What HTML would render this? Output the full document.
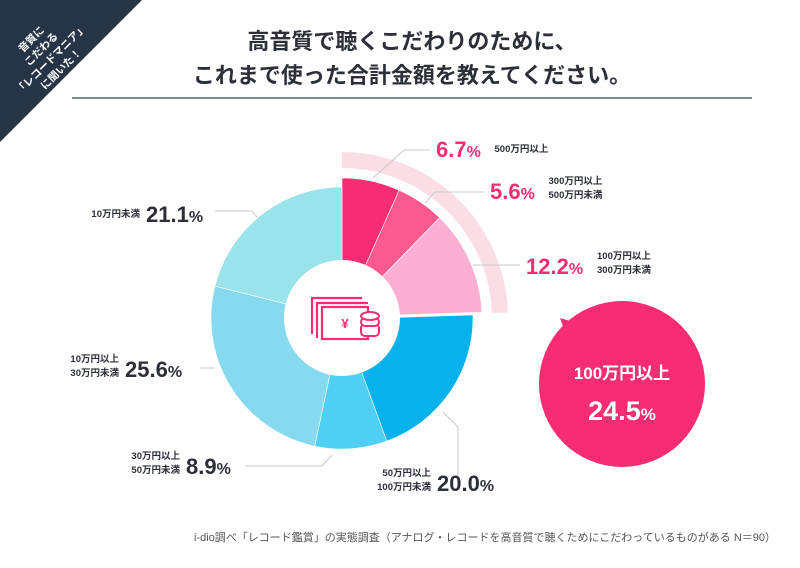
<!DOCTYPE html>
<html><head><meta charset="utf-8">
<style>
html,body{margin:0;padding:0;background:#fff;}
body{width:800px;height:563px;overflow:hidden;position:relative;font-family:"Liberation Sans","Noto Sans CJK JP",sans-serif;}
svg text{font-family:"Liberation Sans","Noto Sans CJK JP",sans-serif;}
</style></head>
<body>
<svg id="chart" width="800" height="563" viewBox="0 0 800 563" xmlns="http://www.w3.org/2000/svg">
  <rect width="800" height="563" fill="#fff"/>
  <g>
    <polygon points="0,0 142,0 0,142" fill="#253447"/>
    <text transform="translate(31,39) rotate(-45)" fill="#fff" font-size="10.5" font-weight="bold" text-anchor="middle">
      <tspan x="0" y="4">音質に</tspan><tspan x="0" y="18">こだわる</tspan><tspan x="0" y="32">「レコードマニア」</tspan><tspan x="0" y="46">に聞いた！</tspan>
    </text>
  </g>
  <g fill="#2b2f38" font-size="22" font-weight="bold" text-anchor="middle">
    <text x="412" y="49">高音質で聴くこだわりのために、</text>
    <text x="412" y="83">これまで使った合計金額を教えてください。</text>
  </g>
  <line x1="72" y1="98" x2="752" y2="98" stroke="#3a4350" stroke-width="1.2"/>
  <path d="" id="hlArc" fill="#fbdde6"/>
  <g id="slices"></g>
  <circle cx="342" cy="318" r="58" fill="#fff"/>
  <g fill="none" stroke="#f72d73" stroke-width="2.2">
    <polyline points="312,334 312,298 362,298"/>
    <polyline points="317,338 317,303 368,303"/>
    <rect x="322" y="307" width="46" height="32"/>
    <text x="345" y="328" fill="#f72d73" stroke="none" font-size="13" font-weight="bold" text-anchor="middle">¥</text>
    <g fill="#fff" stroke="#f72d73" stroke-width="2">
      <rect x="361" y="324" width="18" height="12" rx="4"/>
      <rect x="361" y="318" width="18" height="8" rx="4"/>
      <ellipse cx="370" cy="316" rx="9" ry="4"/>
    </g>
  </g>
  <g id="leaders" stroke="#c9c9c9" stroke-width="1" fill="none">
    <polyline points="430,150 404,150 373,178"/>
    <polyline points="484,192 435,192 425,203"/>
    <polyline points="520,265 473,265"/>
    <polyline points="215,211 252,211 257,217"/>
    <polyline points="200,368 215,368"/>
    <polyline points="245,466 322,466 332,455"/>
    <polyline points="443,412 458,427 458,478"/>
  </g>
  <g id="labels"></g>
  <g>
    <polygon points="560,318 600,330 575,360" fill="#f72d73"/>
    <circle cx="622" cy="384" r="83" fill="#f72d73"/>
    <text x="622" y="379" fill="#fff" font-size="17" font-weight="bold" text-anchor="middle">100万円以上</text>
    <text x="622" y="420" fill="#fff" font-size="27" font-weight="bold" text-anchor="middle">24.5<tspan font-size="17">%</tspan></text>
  </g>
  <text x="776" y="541" fill="#555" font-size="11" text-anchor="end">i-dio調べ「レコード鑑賞」の実態調査（アナログ・レコードを高音質で聴くためにこだわっているものがある N＝90）</text>
</svg>
<script>
const categories = ["500万円以上","300万円以上500万円未満","100万円以上300万円未満","50万円以上100万円未満","30万円以上50万円未満","10万円以上30万円未満","10万円未満"];
const values = [6.7, 5.6, 12.2, 20.0, 8.9, 25.6, 21.1];
const colors = ["#f72d73","#fb5a90","#fcaed3","#06b1ec","#4fcff3","#86d9ef","#9ae3ea"];
const highlighted = [true, true, true, false, false, false, false];
const valueLabels = ["6.7","5.6","12.2","20.0","8.9","25.6","21.1"];
const subLine1 = ["500万円以上","300万円以上","100万円以上","50万円以上","30万円以上","10万円以上","10万円未満"];
const subLine2 = ["","500万円未満","300万円未満","100万円未満","50万円未満","30万円未満",""];

const NS = "http://www.w3.org/2000/svg";
const cx = 342, cy = 318;
const total = values.reduce((a,b)=>a+b,0);
function angleOf(v){ return v/total*Math.PI*2; }
function pt(a,r){ return [cx + r*Math.sin(a), cy - r*Math.cos(a)]; }
function arcPath(a0,a1,r0,r1){
  const large = (a1-a0) > Math.PI ? 1 : 0;
  const p0=pt(a0,r1), p1=pt(a1,r1), p2=pt(a1,r0), p3=pt(a0,r0);
  return `M${p0[0]},${p0[1]} A${r1},${r1} 0 ${large} 1 ${p1[0]},${p1[1]} L${p2[0]},${p2[1]} A${r0},${r0} 0 ${large} 0 ${p3[0]},${p3[1]} Z`;
}
const sg = document.getElementById('slices');
let a = 0, hlEnd = 0;
values.forEach((v,i)=>{
  const a1 = a + angleOf(v);
  const p = document.createElementNS(NS,'path');
  const rOuter = highlighted[i] ? 140 : 131;
  p.setAttribute('d', arcPath(a, a1, 50, rOuter));
  p.setAttribute('fill', colors[i]);
  p.setAttribute('stroke', '#fff');
  p.setAttribute('stroke-width', '0.6');
  
  
  sg.appendChild(p);
  if (highlighted[i]) hlEnd = a1;
  a = a1;
});
const sep = pt(hlEnd,145);
const sl = document.createElementNS(NS,'line');
sl.setAttribute('x1', pt(hlEnd,50)[0]); sl.setAttribute('y1', pt(hlEnd,50)[1]);
sl.setAttribute('x2', sep[0]); sl.setAttribute('y2', sep[1]);
sl.setAttribute('stroke','#fff'); sl.setAttribute('stroke-width','3');


sg.appendChild(sl);
document.getElementById('hlArc').setAttribute('d', arcPath(0, hlEnd, 150, 166));

const labelPos = [[436,157,'r'],[490,199,'r'],[526,274,'r'],[437,491,'l2'],[186,474,'l'],[125,377,'l'],[146,222,'l']];
const lg = document.getElementById('labels');
values.forEach((v,i)=>{
  const [x,y,side] = labelPos[i];
  const pink = highlighted[i];
  const t = document.createElementNS(NS,'text');
  t.setAttribute('x', x); t.setAttribute('y', y);
  t.setAttribute('fill', pink ? '#f72d73' : '#2b2f38');
  t.setAttribute('font-size', '22'); t.setAttribute('font-weight','bold');
  t.innerHTML = valueLabels[i] + '<tspan font-size="16">%</tspan>';
  
  
  lg.appendChild(t);
  const w = valueLabels[i].length*12.5 + 14;
  const lines = subLine2[i] ? [subLine1[i], subLine2[i]] : [subLine1[i]];
  const s = document.createElementNS(NS,'text');
  s.setAttribute('fill','#2b2f38'); s.setAttribute('font-size','9.5'); s.setAttribute('font-weight','bold');
  if (side === 'r') { s.setAttribute('x', x + w + 7); }
  else { s.setAttribute('x', x - 6); s.setAttribute('text-anchor','end'); }
  const y0 = lines.length === 2 ? y - 15 : y - 5;
  lines.forEach((ln,j)=>{
    const ts = document.createElementNS(NS,'tspan');
    ts.setAttribute('x', s.getAttribute('x'));
    ts.setAttribute('y', y0 + j*14);
    ts.textContent = ln;
    s.appendChild(ts);
  });
  
  
  lg.appendChild(s);
});
</script>
</body></html>
